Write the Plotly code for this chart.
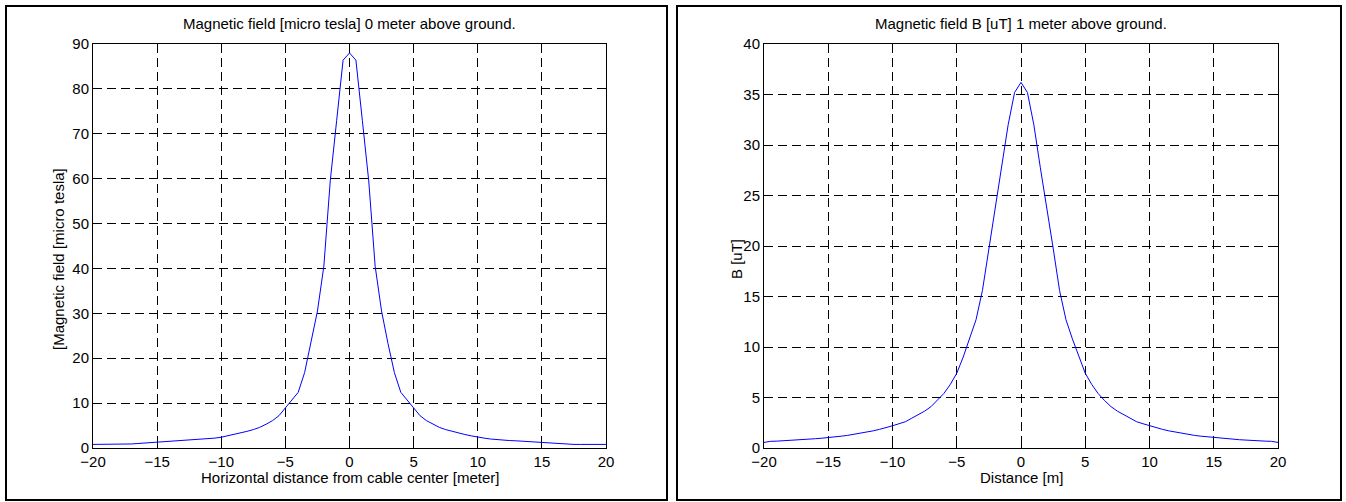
import plotly.graph_objects as go

# Distance samples (m), half profile; curves are mirrored about 0
dist_half = [0.0, 0.5, 1.0, 1.5, 2.0, 2.5, 3.0, 3.5, 4.0, 4.5, 5.0, 5.5, 6.0, 6.5, 7.0,
             7.5, 8.0, 8.5, 9.0, 9.5, 10.0, 10.5, 11.0, 11.5, 12.0, 12.5, 13.0, 13.5,
             14.0, 14.5, 15.0, 15.5, 16.0, 16.5, 17.0, 17.5, 18.0, 18.5, 19.0, 19.5, 20.0]

# Magnetic field at ground level (micro tesla)
b0_half = [88.0, 86.4, 73.0, 59.5, 40.5, 30.5, 23.3, 16.8, 12.4, 10.6, 9.0, 7.2, 6.1, 5.3, 4.6,
           4.1, 3.7, 3.3, 3.0, 2.7, 2.4, 2.2, 2.0, 1.85, 1.75, 1.65, 1.6, 1.5,
           1.4, 1.3, 1.25, 1.2, 1.1, 1.0, 0.9, 0.8, 0.8, 0.8, 0.8, 0.8, 0.8]

# Magnetic field 1 m above ground (uT)
b1_half = [36.2, 35.2, 32.0, 27.8, 24.0, 19.8, 15.6, 12.7, 10.8, 9.0, 7.4, 6.3, 5.4, 4.7, 4.1,
           3.65, 3.3, 2.95, 2.6, 2.4, 2.2, 2.0, 1.85, 1.7, 1.58, 1.45, 1.35, 1.25,
           1.17, 1.1, 1.02, 0.97, 0.92, 0.88, 0.82, 0.77, 0.73, 0.71, 0.68, 0.66, 0.55]

dist = [-d for d in dist_half[:0:-1]] + dist_half
b0 = b0_half[:0:-1] + b0_half
b1 = b1_half[:0:-1] + b1_half

x_ticks = [-20, -15, -10, -5, 0, 5, 10, 15, 20]
y0_ticks = [0, 10, 20, 30, 40, 50, 60, 70, 80, 90]
y1_ticks = [0, 5, 10, 15, 20, 25, 30, 35, 40]

W, H = 1346, 502
FONT = "Liberation Sans, Arial, sans-serif"
FS = 15

def px(x):
    return x / W

def py(y):
    return 1 - y / H

fig = go.Figure()
fig.add_trace(go.Scatter(x=dist, y=b0, mode="lines", line=dict(color="#0000ff", width=1),
                         xaxis="x", yaxis="y", showlegend=False))
fig.add_trace(go.Scatter(x=dist, y=b1, mode="lines", line=dict(color="#0000ff", width=1),
                         xaxis="x2", yaxis="y2", showlegend=False))

ax_common = dict(showline=True, linecolor="black", linewidth=1, mirror="ticks",
                 ticks="inside", ticklen=5, tickcolor="black",
                 showgrid=True, gridcolor="black", gridwidth=1, griddash="9px,5px",
                 zeroline=False, automargin=False,
                 tickfont=dict(family=FONT, size=FS, color="black"))

ydom = [py(448), py(44)]
fig.update_layout(
    width=W, height=H,
    margin=dict(l=0, r=0, t=0, b=0, pad=0, autoexpand=False),
    paper_bgcolor="white", plot_bgcolor="white",
    xaxis=dict(domain=[px(93), px(606)], range=[-20, 20], tickvals=x_ticks,
               anchor="y", **ax_common),
    yaxis=dict(domain=ydom, range=[0, 90], tickvals=y0_ticks, anchor="x", **ax_common),
    xaxis2=dict(domain=[px(764), px(1278)], range=[-20, 20], tickvals=x_ticks,
                anchor="y2", **ax_common),
    yaxis2=dict(domain=ydom, range=[0, 40], tickvals=y1_ticks, anchor="x2", **ax_common),
)

txt = dict(family=FONT, size=FS, color="black")
ann = [
    dict(text="Magnetic field [micro tesla] 0 meter above ground.", x=px(349.5), y=py(24)),
    dict(text="Magnetic field B [uT] 1 meter above ground.", x=px(1021), y=py(24)),
    dict(text="Horizontal distance from cable center [meter]", x=px(349.5), y=py(477)),
    dict(text="Distance [m]", x=px(1021), y=py(477)),
    dict(text="[Magnetic field [micro tesla]", x=px(58), y=py(259), textangle=-90),
    dict(text="B [uT]", x=px(736), y=py(259), textangle=-90),
]
for a in ann:
    fig.add_annotation(xref="paper", yref="paper", showarrow=False, font=txt,
                       xanchor="center", yanchor="middle", **a)

# Panel frames
for x0, x1 in [(6, 667), (677, 1341)]:
    fig.add_shape(type="rect", xref="paper", yref="paper",
                  x0=px(x0), x1=px(x1), y0=py(500), y1=py(6),
                  line=dict(color="black", width=2), fillcolor="rgba(0,0,0,0)")

fig.write_html("out.html", config={"displayModeBar": False},
               post_script="document.body.style.margin='0';")
